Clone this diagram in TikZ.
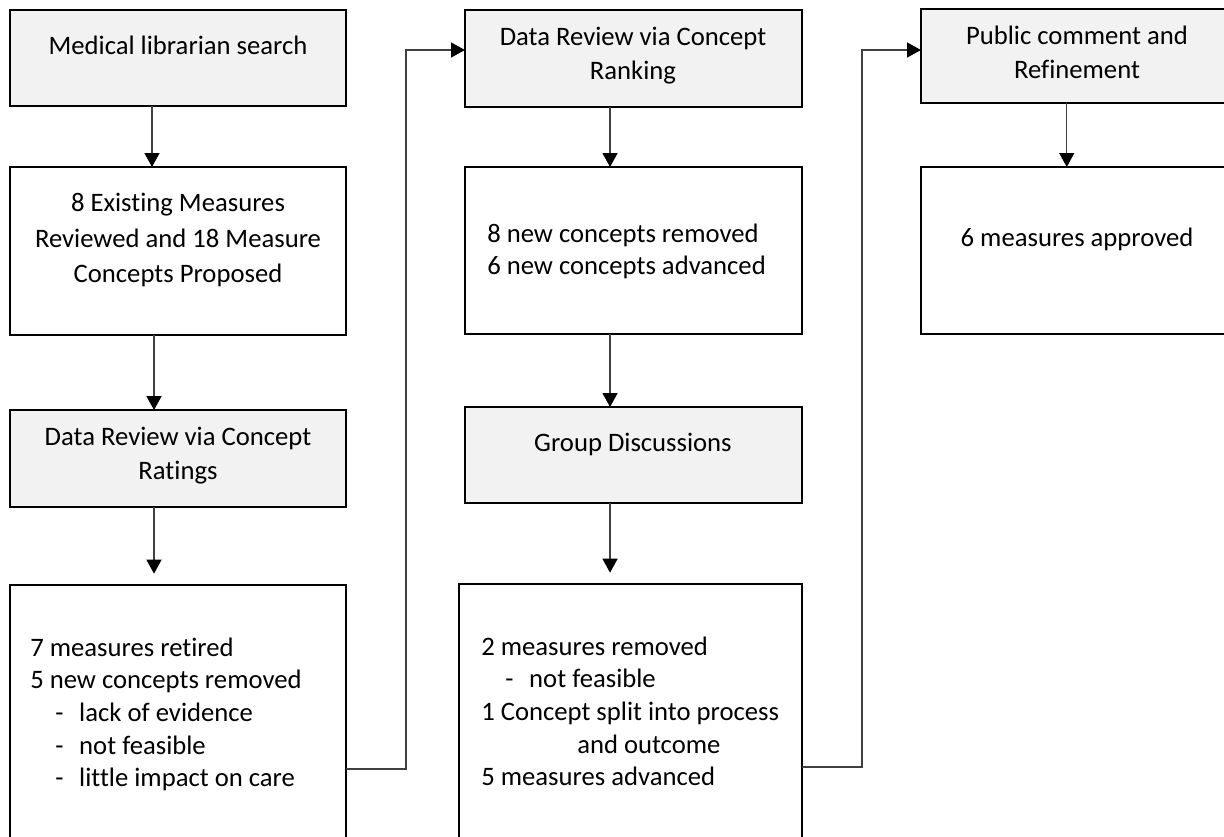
\documentclass[tikz,border=0pt]{standalone}
\usepackage{fontspec}
\setmainfont[Ligatures={NoCommon,NoContextual,NoRequired},RawFeature={-liga;-clig;-calt;-dlig}]{Carlito}
\usetikzlibrary{arrows.meta,fit}
\definecolor{boxgray}{HTML}{F2F2F2}
\definecolor{linegray}{HTML}{404040}
\begin{document}
\begin{tikzpicture}[x=0.75pt,y=-0.75pt,
  box/.style={draw=black,line width=1.6pt,inner sep=0pt,outer sep=0pt},
  gbox/.style={box,fill=boxgray},
  txt/.style={inner sep=0pt,font=\fontsize{20pt}{24.5pt}\selectfont},
  conn/.style={draw=linegray,line width=1pt},
  arr/.style={conn,-{Triangle[width=11.25pt,length=10.5pt,color=black]}}]
\useasboundingbox (0,0) rectangle (1224,836);
\clip (0,0) rectangle (1224,836);

% column 1
\node[gbox,fit={(10,10) (346,106)}] (B1) {};
\node[box,fit={(10,167) (346,335)}] (B2) {};
\node[gbox,fit={(10,410) (346,507)}] (B3) {};
\node[box,fit={(10,585) (346,860)}] (B4) {};
% column 2
\node[gbox,fit={(465,10) (802,107)}] (B5) {};
\node[box,fit={(465,167) (802,334)}] (B6) {};
\node[gbox,fit={(465,407) (802,503)}] (B7) {};
\node[box,fit={(459,584) (802,860)}] (B8) {};
% column 3
\node[gbox,fit={(921,9) (1240,103)}] (B9) {};
\node[box,fit={(921,167) (1240,334)}] (B10) {};

% texts
\node[txt,align=center] (t1) at (178,48) {\strut Medical librarian search};
\node[txt,align=center,font=\fontsize{20pt}{26.6pt}\selectfont] (t2) at (178,240)
  {\strut 8 Existing Measures\\\strut Reviewed and 18 Measure\\\strut Concepts Proposed};
\node[txt,align=center,font=\fontsize{20pt}{25.5pt}\selectfont] (t3) at (178,456)
  {\strut Data Review via Concept\\\strut Ratings};
\node[txt,align=left,anchor=west] (t4) at (30,715)
  {\strut 7 measures retired\\
   \strut 5 new concepts removed\\
   \strut\hspace*{18.75pt}\makebox[18pt][l]{-}lack of evidence\\
   \strut\hspace*{18.75pt}\makebox[18pt][l]{-}not feasible\\
   \strut\hspace*{18.75pt}\makebox[18pt][l]{-}little impact on care};
\node[txt,align=center,font=\fontsize{20pt}{25.5pt}\selectfont] (t5) at (633,56)
  {\strut Data Review via Concept\\\strut Ranking};
\node[txt,align=left,anchor=west] (t6) at (487,252)
  {\strut 8 new concepts removed\\\strut 6 new concepts advanced};
\node[txt,align=center] (t7) at (633,445) {\strut Group Discussions};
\node[txt,align=left,anchor=west] (t8) at (481,714)
  {\strut 2 measures removed\\
   \strut\hspace*{18pt}\makebox[18pt][l]{-}not feasible\\
   \strut 1 Concept split into process\\
   \strut\hspace*{72pt}and outcome\\
   \strut 5 measures advanced};
\node[txt,align=center,font=\fontsize{20pt}{25.5pt}\selectfont] (t9) at (1077,54.5)
  {\strut Public comment and\\\strut Refinement};
\node[txt,align=center] (t10) at (1077,240) {\strut 6 measures approved};

% vertical arrows
\draw[arr] ([xshift=-19.5pt]B1.south) -- ([xshift=-19.5pt]B2.north);
\draw[arr] ([xshift=-18pt]B2.south) -- ([xshift=-18pt]B3.north);
\draw[arr,shorten >=8.5pt] ([xshift=-18pt]B3.south) -- ([xshift=-18pt]B3.south |- B4.north);
\draw[arr] ([xshift=-17.6pt]B5.south) -- ([xshift=-17.6pt]B6.north);
\draw[arr] ([xshift=-17.6pt]B6.south) -- ([xshift=-17.6pt]B7.north);
\draw[arr,shorten >=8.5pt] ([xshift=-17.6pt]B7.south) -- ([xshift=-17.6pt]B7.south |- B8.north);
\draw[arr] ([xshift=-10.3pt]B9.south) -- ([xshift=-10.3pt]B9.south |- B10.north);

% elbow connectors
\coordinate (j1) at (406,769);
\coordinate (j2) at (406,50);
\draw[arr] (B4.east |- j1) -- (j1) -- (j2) -- (B5.west |- j2);
\coordinate (k1) at (862,767);
\coordinate (k2) at (862,50);
\draw[arr] (B8.east |- k1) -- (k1) -- (k2) -- (B9.west |- k2);
\end{tikzpicture}
\end{document}
